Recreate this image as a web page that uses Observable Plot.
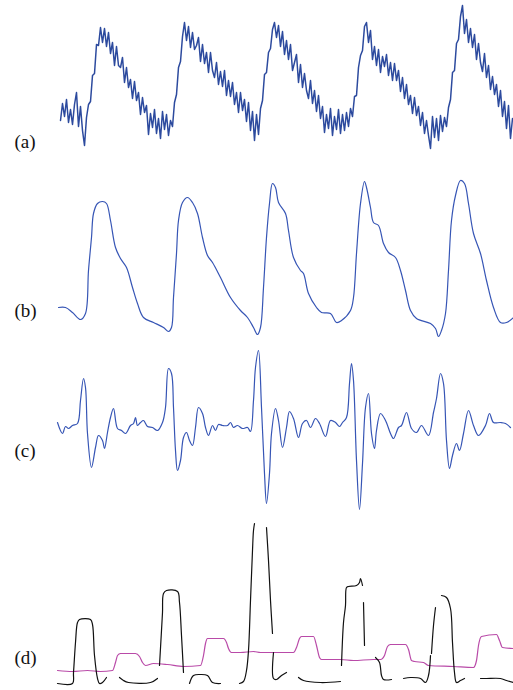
<!DOCTYPE html>
<html><head><meta charset="utf-8">
<script src="https://cdn.jsdelivr.net/npm/d3@7"></script>
<script src="https://cdn.jsdelivr.net/npm/@observablehq/plot@0.6"></script>
<style>body{margin:0;background:#fff}#chart svg{display:block}#chart svg text{font-family:"Liberation Serif","Times New Roman",serif}</style>
</head><body><div id="chart"></div>
<script>
// Panel labels
const labels = ["(a)", "(b)", "(c)", "(d)"];

// (a) raw noisy signal: [sample position, depth value]
const rawSignal = [[60,120],[62,103],[64,116],[66,99],[68,122],[70,109],[72,124],[74,104],[76,92],[78,126],[80,106],[82,130],[84,145],[86,117],[88,104],
[90,101],[92,75],[94,73],[96,44],[98,45],[100,27],[102,42],[104,28],[106,46],[108,32],[110,53],[112,42],[114,65],[116,46],[118,65],[120,67],[122,57],[124,82],[126,67],[128,87],[130,79],[132,98],[134,81],[136,100],[138,92],[140,114],[142,97],[144,112],
[146,105],[148,134],[150,113],[152,127],[154,109],[156,133],[158,118],[160,138],[162,111],[164,129],[166,114],[168,135],[170,120],[172,126],
[174,102],[176,94],[178,67],[180,61],[182,36],[184,22],[186,40],[188,26],[190,47],[192,32],[194,49],[196,45],[198,37],[200,61],[202,44],[204,63],[206,52],[208,72],[210,52],[212,70],[214,77],[216,62],[218,84],[220,71],[222,86],[224,70],[226,95],[228,80],[230,96],[232,82],[234,104],[236,92],[238,112],[240,92],[242,110],[244,99],[246,121],[248,102],[250,130],[252,111],[254,140],[256,114],[258,134],
[260,108],[262,100],[264,74],[266,72],[268,52],[270,48],[272,29],[274,22],[276,37],[278,25],[280,46],[282,31],[284,54],[286,40],[288,59],[290,44],[292,70],[294,62],[296,54],[298,82],[300,64],[302,87],[304,73],[306,90],[308,98],[310,80],[312,103],[314,90],[316,111],[318,95],[320,118],
[322,106],[324,132],[326,114],[328,128],[330,108],[332,135],[334,116],[336,129],[338,109],[340,133],[342,114],[344,130],[346,112],[348,126],[350,108],
[352,116],[354,96],[356,95],[358,67],[360,55],[362,50],[364,26],[366,22],[368,42],[370,30],[372,59],[374,46],[376,65],[378,49],[380,72],[382,56],[384,66],[386,54],[388,75],[390,62],[392,80],[394,63],[396,80],[398,70],[400,91],[402,77],[404,98],[406,84],[408,104],[410,95],[412,113],[414,97],[416,115],[418,106],[420,125],
[422,112],[424,133],[426,120],[428,135],[430,148],[432,116],[434,137],[436,118],[438,140],[440,115],[442,131],[444,117],[446,126],
[448,107],[450,99],[452,72],[454,70],[456,43],[458,39],[460,16],[462,5],[464,33],[466,19],[468,42],[470,28],[472,47],[474,34],[476,59],[478,43],[480,62],[482,71],[484,53],[486,77],[488,65],[490,89],[492,76],[494,94],[496,84],[498,106],[500,90],[502,116],[504,101],[506,128],[508,105],[510,138],[512,118]];

// (b) filtered signal
const filtered = [[58,307],[65,307],[72,312],[80,319],[85,313],[88,270],[91,237],[93,213],[97,203],[102,201],[106,203],[110,220],[115,247],[120,258],[126,267],[132,287],[137,303],[143,317],[153,322],[163,327],[168,331],[171,327],[173,297],[176,253],[178,220],[182,202],[187,197],[192,202],[197,213],[202,237],[207,255],[212,262],[220,277],[230,297],[240,310],[247,317],[253,327],[257,334],[260,327],[263,287],[266,237],[269,203],[272,183],[275,187],[278,202],[285,213],[288,230],[293,257],[300,270],[303,273],[308,293],[316,307],[321,312],[330,313],[336,322],[341,320],[350,310],[353,297],[356,253],[360,203],[364,181],[366,187],[370,207],[373,222],[378,225],[383,243],[388,252],[395,257],[400,270],[405,290],[410,310],[416,318],[430,323],[435,328],[438,336],[441,330],[445,313],[448,270],[451,220],[455,195],[460,180],[464,183],[468,203],[473,233],[480,253],[486,280],[493,307],[500,322],[506,322],[513,317]];

// (c) derivative signal
const derivative = [[57,422],[62,433],[65,426],[68,428],[72,425],[77,423],[80,400],[83,378],[85,387],[87,433],[91,467],[95,447],[98,435],[102,440],[104,448],[107,432],[110,417],[113,408],[117,428],[121,430],[125,433],[130,425],[133,423],[135,417],[137,425],[140,422],[143,420],[147,426],[152,427],[157,430],[162,422],[165,407],[168,368],[171,373],[173,407],[175,450],[177,470],[180,460],[183,437],[186,432],[189,440],[192,445],[195,427],[198,407],[202,413],[205,427],[208,435],[212,425],[215,430],[218,424],[222,425],[227,425],[230,422],[233,427],[237,425],[242,428],[247,427],[250,431],[253,400],[255,367],[258,350],[261,407],[264,473],[266,503],[269,473],[271,433],[275,408],[278,420],[282,447],[286,427],[289,411],[293,418],[298,437],[302,423],[306,420],[310,427],[315,418],[319,423],[325,436],[330,420],[335,422],[339,426],[342,422],[346,417],[349,383],[351,363],[353,380],[356,460],[359,509],[362,463],[365,407],[368,393],[371,433],[374,448],[376,430],[380,413],[385,420],[390,433],[393,438],[398,427],[401,425],[406,412],[411,428],[416,432],[421,425],[428,435],[433,412],[436,398],[440,373],[443,383],[446,440],[449,468],[452,455],[456,443],[459,450],[463,433],[468,410],[473,425],[478,435],[485,425],[489,413],[493,422],[500,422],[505,423],[510,427]];

// (d) detected pulse segments (black) and step trace (magenta)
const pulseSegments = [
 [[57,683],[72,683],[73,672],[75,642],[77,622],[79,619],[90,619],[92,624],[94,655],[97,678],[99,683],[102,682],[106,677]],
 [[119,677],[123,680],[128,682],[150,682],[157,678]],
 [[159,665],[161,630],[162,612],[163,593],[166,590],[177,591],[179,602],[181,635],[183,672]],
 [[189,683],[193,675],[200,674],[207,675],[212,682],[220,683]],
 [[239,683],[243,681],[246,670],[248,650],[250,600],[252,550],[253,530],[254,523]],
 [[266,527],[268,560],[270,600],[272,633]],
 [[273,652],[273,678],[276,679],[281,675],[286,672]],
 [[298,677],[303,680],[320,682],[340,681]],
 [[341,665],[343,622],[345,605],[346,587],[348,586],[356,585],[359,582],[360,578],[362,585]],
 [[363,602],[364,645]],
 [[375,657],[379,662],[381,675],[383,679],[391,679]],
 [[403,678],[410,677],[420,678],[425,682],[428,675],[430,655]],
 [[431,653],[433,625],[435,607]],
 [[441,595],[446,597],[450,608],[452,642],[454,672],[456,682],[460,680],[464,678]],
 [[480,678],[486,678],[500,678],[506,680],[513,682]]
];
const stepTrace = [[57,670],[72,671],[87,670],[100,671],[112,670],[115,662],[117,655],[120,653],[135,653],[139,656],[142,662],[145,665],[153,663],[167,664],[183,666],[200,665],[203,655],[205,643],[207,638],[223,638],[226,642],[228,648],[231,652],[240,652],[253,651],[260,652],[293,652],[296,647],[299,638],[301,636],[313,636],[316,645],[319,657],[321,659],[340,659],[353,660],[373,659],[380,659],[384,655],[387,646],[390,644],[405,644],[408,649],[411,660],[414,661],[423,662],[428,665],[453,666],[473,667],[476,660],[478,645],[481,636],[496,634],[499,640],[502,647],[513,648]];

const W = 513;
const pulseRows = pulseSegments.flatMap((s, i) => s.map(([x, y]) => ({x, y, seg: i})));

function panel(top, h, label, labelDy, marks) {
  return Plot.plot({
    width: W, height: h, margin: 0,
    x: {domain: [0, W], axis: null},
    y: {domain: [top + h, top], axis: null},
    marks: [
      ...marks,
      Plot.text([label], {frameAnchor: "left", dx: 14, dy: labelDy, textAnchor: "start",
        fontFamily: "Liberation Serif", fontSize: 19, fill: "#111"})
    ]
  });
}

const chart = document.getElementById("chart");
chart.append(panel(0, 172, labels[0], 55, [
  Plot.line(rawSignal, {x: d => d[0], y: d => d[1], stroke: "#2c4a9e", strokeWidth: 1.5, curve: "linear"})
]));
chart.append(panel(172, 173, labels[1], 52, [
  Plot.line(filtered, {x: d => d[0], y: d => d[1], stroke: "#3655b5", strokeWidth: 1.2, curve: "catmull-rom"})
]));
chart.append(panel(345, 172, labels[2], 19, [
  Plot.line(derivative, {x: d => d[0], y: d => d[1], stroke: "#3655b5", strokeWidth: 1.2, curve: "catmull-rom"})
]));
chart.append(panel(517, 173, labels[3], 54, [
  Plot.line(stepTrace, {x: d => d[0], y: d => d[1], stroke: "#b94aa8", strokeWidth: 1.2, curve: "monotone-x"}),
  Plot.line(pulseRows, {x: "x", y: "y", z: "seg", stroke: "#111", strokeWidth: 1.2, curve: "catmull-rom"})
]));
</script>
</body></html>
